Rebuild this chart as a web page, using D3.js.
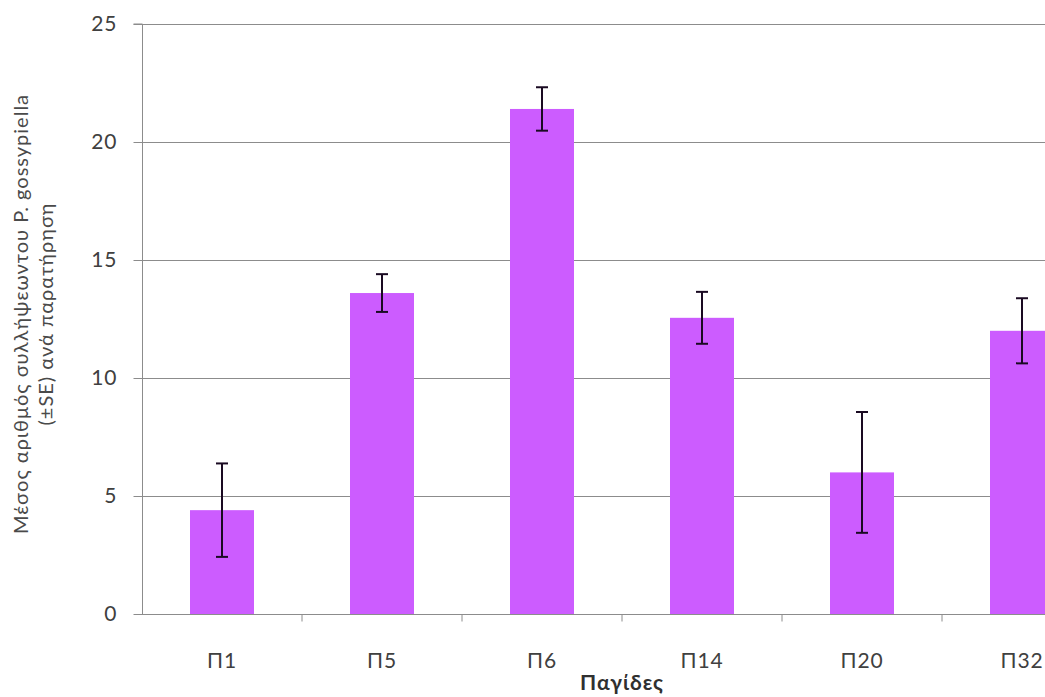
<!DOCTYPE html>
<html><head><meta charset="utf-8">
<script src="https://cdn.jsdelivr.net/npm/d3@7"></script>
<style>body{margin:0;background:#fff;}svg{display:block;}</style>
</head><body>
<svg id="c" width="1045" height="697"></svg>
<script>
const categories = ["Π1","Π5","Π6","Π14","Π20","Π32"];
const means = [4.4, 13.6, 21.4, 12.55, 6.0, 12.0];
const errors = [1.98, 0.8, 0.92, 1.1, 2.56, 1.38];
const yTicks = [0,5,10,15,20,25];

(function(){
const svg = d3.select("#c");
const pLeft = 142, pRight = 1102, pTop = 24, pBottom = 614;
const font = "Lato, 'Open Sans', sans-serif";

const xb = d3.scaleBand().domain(categories).range([pLeft, pRight]);
const y = d3.scaleLinear().domain([0,25]).range([pBottom, pTop]);

// gridlines
svg.append("g").selectAll("line").data(yTicks.filter(d=>d>0)).join("line")
  .attr("x1", pLeft).attr("x2", 1045).attr("y1", d=>y(d)+0.5).attr("y2", d=>y(d)+0.5)
  .attr("stroke", "#8c8c8c").attr("stroke-width", 1);

// bars
svg.append("g").selectAll("rect").data(categories).join("rect")
  .attr("x", (d)=>xb(d)+xb.bandwidth()/2-32).attr("width", 64)
  .attr("y", (d,i)=>y(means[i])).attr("height", (d,i)=>y(0)-y(means[i]))
  .attr("fill", "#cc5cff");

// error bars
const eg = svg.append("g").attr("stroke", "#1a0a22").attr("stroke-width", 2);
categories.forEach((c,i)=>{
  const cx = xb(c)+xb.bandwidth()/2;
  eg.append("line").attr("x1",cx).attr("x2",cx).attr("y1",y(means[i]+errors[i])).attr("y2",y(means[i]-errors[i]));
  [means[i]+errors[i], means[i]-errors[i]].forEach(v=>{
    eg.append("line").attr("x1",cx-6).attr("x2",cx+6).attr("y1",y(v)).attr("y2",y(v));
  });
});

// y axis
const yAxis = d3.axisLeft(y).tickValues(yTicks).tickSize(9).tickPadding(16);
const ya = svg.append("g").attr("transform", `translate(${pLeft+0.5},0)`).call(yAxis);
ya.select(".domain").attr("stroke", "#8c8c8c").attr("d", `M-9,${pTop}H0V${pBottom}`);
ya.selectAll(".tick line").attr("stroke", "#8c8c8c");
ya.selectAll("text").attr("font-family", font).attr("font-size", 21).attr("letter-spacing", 1).attr("fill", "#404040");

// x axis
const xa = svg.append("g").attr("transform", `translate(0,${pBottom+0.5})`);
xa.append("line").attr("x1", pLeft).attr("x2", 1045).attr("y1",0).attr("y2",0).attr("stroke","#8c8c8c");
xa.selectAll("line.t").data(categories).join("line").attr("class","t")
  .attr("x1", d=>xb(d)+xb.bandwidth()).attr("x2", d=>xb(d)+xb.bandwidth())
  .attr("y1",0).attr("y2",7).attr("stroke","#8c8c8c");
xa.selectAll("text").data(categories).join("text")
  .attr("x", d=>xb(d)+xb.bandwidth()/2).attr("y", 53)
  .attr("text-anchor","middle").attr("font-family", font).attr("font-size", 21).attr("letter-spacing", 0.8).attr("fill","#404040")
  .text(d=>d);

// x title
svg.append("text").attr("x", (pLeft+pRight)/2).attr("y", 690).attr("text-anchor","middle")
  .attr("font-family", font).attr("font-size", 21).attr("letter-spacing", 1).attr("font-weight","bold").attr("fill","#303030")
  .text("Παγίδες");

// y title
const yt = svg.append("text").attr("transform", "translate(0,314) rotate(-90)")
  .attr("text-anchor","middle").attr("font-family", font).attr("font-size", 20).attr("letter-spacing", 1).attr("fill","#4a4a4a");
yt.append("tspan").attr("x",0).attr("y",28).text("Μέσος αριθμός συλλήψεωντου P. gossypiella");
yt.append("tspan").attr("x",0).attr("y",53).text("(±SE) ανά παρατήρηση");
})();
</script>
</body></html>
